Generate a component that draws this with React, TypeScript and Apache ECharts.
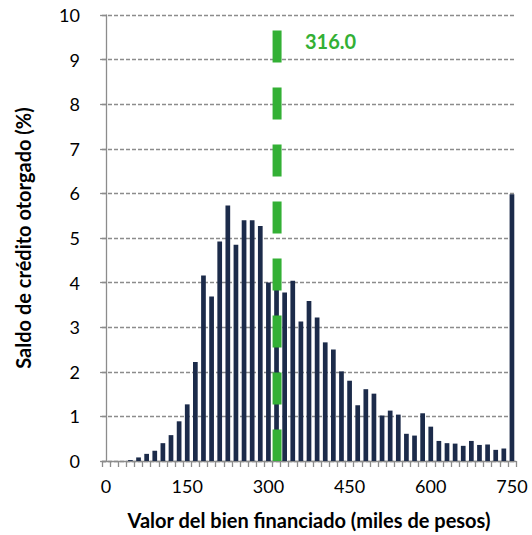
import React, { useEffect, useRef } from "react";
import * as echarts from "echarts";

const categories = [
  "0", "15", "30", "45", "60", "75", "90", "105", "120", "135",
  "150", "165", "180", "195", "210", "225", "240", "255", "270", "285",
  "300", "315", "330", "345", "360", "375", "390", "405", "420", "435",
  "450", "465", "480", "495", "510", "525", "540", "555", "570", "585",
  "600", "615", "630", "645", "660", "675", "690", "705", "720", "735",
  "750",
];

const shares = [
  0, 0, 0, 0.02, 0.08, 0.16, 0.23, 0.4, 0.58, 0.89,
  1.27, 2.22, 4.16, 3.69, 4.92, 5.73, 4.85, 5.4, 5.4, 5.27,
  4.0, 4.3, 3.78, 4.04, 3.13, 3.59, 3.22, 2.66, 2.5, 2.01,
  1.8, 1.25, 1.61, 1.51, 1.02, 1.13, 1.04, 0.61, 0.57, 1.07,
  0.77, 0.45, 0.4, 0.39, 0.34, 0.45, 0.36, 0.37, 0.25, 0.28,
  5.98,
];

const meanValue = 316.0;
const meanLineTop = 9.65;
const binWidth = 15;

const barColor = "#1c2b4a";
const green = "#33b035";
const gray = "#8c8c8c";
const font = "Lato, 'Open Sans', sans-serif";

export default function App() {
  const ref = useRef<HTMLDivElement>(null);
  useEffect(() => {
    document.body.style.margin = "0";
    if (!ref.current) return;
    const chart = echarts.init(ref.current, null, { renderer: "svg" });
    const first = Number(categories[0]);
    const last = Number(categories[categories.length - 1]);
    chart.setOption({
      animation: false,
      grid: { left: 102, right: 16, top: 15, bottom: 73, containLabel: false },
      xAxis: [
        {
          type: "category",
          data: categories,
          boundaryGap: true,
          axisLine: { lineStyle: { color: gray, width: 1.3 } },
          axisTick: { show: true, interval: 0, length: 6, lineStyle: { color: gray, width: 1.3 } },
          axisLabel: { interval: 9, color: "#000", fontSize: 18, fontFamily: font, margin: 16 },
          splitLine: { show: false },
          name: "Valor del bien financiado (miles de pesos)",
          nameLocation: "middle",
          nameGap: 49,
          nameTextStyle: { color: "#000", fontSize: 20, fontWeight: "bold", fontFamily: font },
        },
        {
          type: "value",
          show: false,
          min: first - binWidth / 2,
          max: last + binWidth / 2,
        },
      ],
      yAxis: {
        type: "value",
        min: 0,
        max: 10,
        interval: 1,
        axisLine: { show: true, lineStyle: { color: gray, width: 1.3 } },
        axisTick: { show: true, length: 6, lineStyle: { color: gray, width: 1.3 } },
        axisLabel: { color: "#000", fontSize: 18, fontFamily: font, margin: 22 },
        splitLine: { show: true, lineStyle: { color: gray, type: [4, 2], width: 1.3 } },
        name: "Saldo de crédito otorgado (%)",
        nameLocation: "middle",
        nameGap: 69,
        nameTextStyle: { color: "#000", fontSize: 20, fontWeight: "bold", fontFamily: font },
      },
      series: [
        {
          type: "bar",
          data: shares,
          barCategoryGap: "42%",
          itemStyle: { color: barColor },
          z: 2,
        },
        {
          type: "line",
          xAxisIndex: 1,
          data: [
            [meanValue, meanLineTop],
            [meanValue, 0],
          ],
          symbol: "none",
          lineStyle: { color: green, width: 9, type: [32, 25], cap: "butt" },
          z: 5,
        },
      ],
      graphic: [
        {
          type: "text",
          x: 305,
          y: 41,
          z: 10,
          style: {
            text: meanValue.toFixed(1),
            fill: green,
            font: `bold 20px ${font}`,
            verticalAlign: "middle",
            align: "left",
          },
        },
      ],
    });
    return () => chart.dispose();
  }, []);
  return <div ref={ref} style={{ width: 532, height: 535 }} />;
}
